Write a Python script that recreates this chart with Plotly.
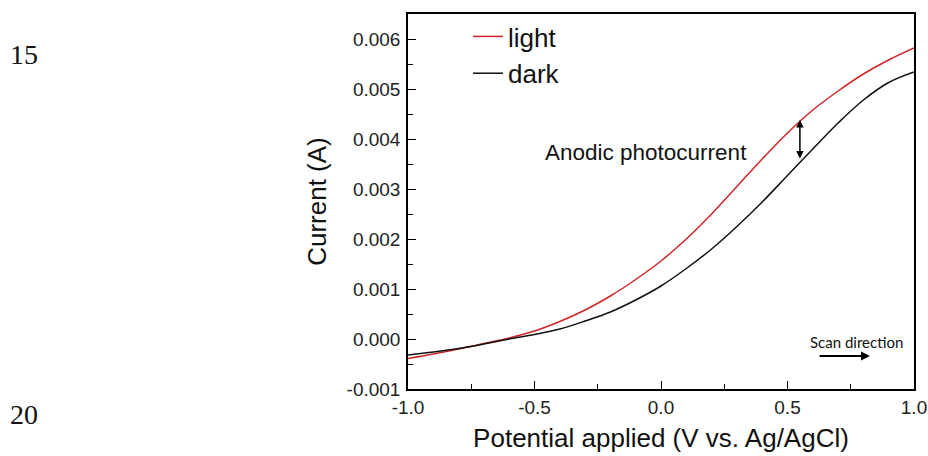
import plotly.graph_objects as go

# ---- data ----
potential = [-1.0, -0.9, -0.8, -0.7, -0.6, -0.5, -0.4, -0.3, -0.2, -0.1,
             0.0, 0.1, 0.2, 0.3, 0.4, 0.5, 0.6, 0.7, 0.8, 0.9, 1.0]
current_light = [-0.00039, -0.00030, -0.00020, -0.00009, 0.00002, 0.00016,
                 0.00035, 0.00058, 0.00086, 0.00119, 0.00156, 0.00200,
                 0.00250, 0.00305, 0.00360, 0.00412, 0.00458, 0.00496,
                 0.00530, 0.00558, 0.00582]
current_dark = [-0.00032, -0.00026, -0.00019, -0.00010, 0.00000, 0.00009,
                0.00020, 0.00036, 0.00054, 0.00078, 0.00106, 0.00141,
                0.00180, 0.00225, 0.00274, 0.00327, 0.00380, 0.00432,
                0.00478, 0.00513, 0.00534]

x_tickvals = [-1.0, -0.5, 0.0, 0.5, 1.0]
x_ticktext = ["-1.0", "-0.5", "0.0", "0.5", "1.0"]
y_tickvals = [-0.001, 0.0, 0.001, 0.002, 0.003, 0.004, 0.005, 0.006]
y_ticktext = ["-0.001", "0.000", "0.001", "0.002", "0.003", "0.004", "0.005", "0.006"]

W, H = 928, 456
ML, MR, MT, MB = 408, 14, 14, 67
PW, PH = W - ML - MR, H - MT - MB

def px(xp):
    return (xp - ML) / PW

def py(yp):
    return (H - MB - yp) / PH

FONT = "Liberation Sans, Arial, sans-serif"

fig = go.Figure()
fig.add_trace(go.Scatter(x=potential, y=current_light, mode="lines", name="light",
                         line=dict(color="#d02424", width=1.5, shape="spline", smoothing=1.0)))
fig.add_trace(go.Scatter(x=potential, y=current_dark, mode="lines", name="dark",
                         line=dict(color="#111111", width=1.5, shape="spline", smoothing=1.0)))

axis_common = dict(showline=True, linecolor="black", linewidth=1.5, mirror=True,
                   showgrid=False, zeroline=False, ticks="inside", ticklen=8,
                   tickwidth=1.3, tickcolor="black",
                   tickfont=dict(family=FONT, size=19, color="#222222"))

fig.update_xaxes(range=[-1.0, 1.0], tickvals=x_tickvals, ticktext=x_ticktext,
                 minor=dict(ticks="inside", ticklen=5, tickwidth=1.3, tickcolor="black", dtick=0.25,
                            tick0=-1.0),
                 ticklabelstandoff=0,
                 title=dict(text="Potential applied (V vs. Ag/AgCl)",
                            font=dict(family=FONT, size=26, color="#111111"), standoff=12),
                 **axis_common)
fig.update_yaxes(range=[-0.001, 0.0065], tickvals=y_tickvals, ticktext=y_ticktext,
                 minor=dict(ticks="inside", ticklen=5, tickwidth=1.3, tickcolor="black", dtick=0.0005,
                            tick0=-0.001),
                 ticklabelstandoff=2,
                 title=dict(text="Current (A)",
                            font=dict(family=FONT, size=26, color="#111111"), standoff=12),
                 **axis_common)

annotations = [
    dict(text="Anodic photocurrent", x=px(646), y=py(152), xref="paper", yref="paper",
         showarrow=False, font=dict(family=FONT, size=22.5, color="#111111"),
         xanchor="center", yanchor="middle"),
    # double-headed arrow for photocurrent
    dict(text="", x=0.549, y=0.00438, ax=0.549, ay=0.00358, xref="x", yref="y",
         axref="x", ayref="y", showarrow=True, arrowhead=2, arrowside="end+start",
         arrowsize=1.0, arrowwidth=1.5, arrowcolor="black"),
    dict(text="Scan direction", x=px(856), y=py(342), xref="paper", yref="paper",
         showarrow=False, font=dict(family="Lato, sans-serif", size=15, color="#111111"),
         xanchor="center", yanchor="middle"),
    dict(text="", x=0.826, y=-0.00034, ax=0.621, ay=-0.00034, xref="x", yref="y",
         axref="x", ayref="y", showarrow=True, arrowhead=2, arrowsize=1.0,
         arrowwidth=1.8, arrowcolor="black"),
    # manuscript line numbers
    dict(text="15", x=px(24), y=py(55), xref="paper", yref="paper", showarrow=False,
         font=dict(family="Liberation Serif, Times New Roman, serif", size=28, color="#111111"),
         xanchor="center", yanchor="middle"),
    dict(text="20", x=px(24), y=py(414), xref="paper", yref="paper", showarrow=False,
         font=dict(family="Liberation Serif, Times New Roman, serif", size=28, color="#111111"),
         xanchor="center", yanchor="middle"),
]

fig.update_layout(
    width=W, height=H,
    margin=dict(l=ML, r=MR, t=MT, b=MB, autoexpand=False),
    paper_bgcolor="white", plot_bgcolor="white",
    showlegend=True,
    legend=dict(x=px(468), y=py(13), xanchor="left", yanchor="top",
                bgcolor="rgba(0,0,0,0)", borderwidth=0,
                font=dict(family=FONT, size=26, color="#111111"),
                tracegroupgap=0),
    annotations=annotations,
)

fig.write_html("out.html")
